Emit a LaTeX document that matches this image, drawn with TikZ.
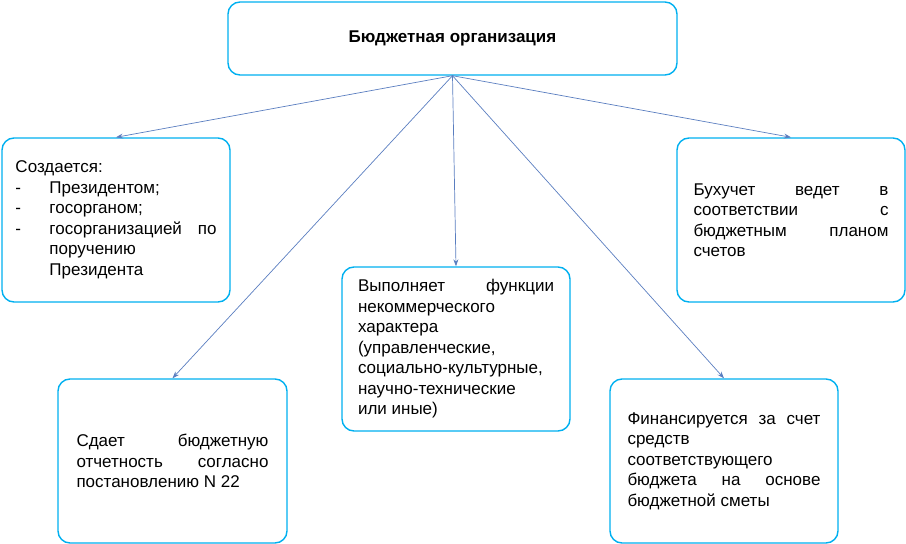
\documentclass[tikz,border=0pt]{standalone}
\usepackage{fontspec}
\setmainfont{Liberation Sans}
\usetikzlibrary{arrows.meta}
\definecolor{bordc}{HTML}{00B0F0}
\definecolor{arrc}{HTML}{5A7EC0}
\begin{document}
\begin{tikzpicture}[x=1pt,y=-1pt,
  box/.style={draw=bordc,line width=1.4pt,rounded corners=12pt,fill=white,inner sep=0pt},
  txt/.style={font=\fontsize{17}{20.5}\selectfont,align=justify},
  arr/.style={draw=arrc,line width=0.7pt,-{Stealth[length=7pt,width=5pt]}}]
\useasboundingbox (0,0) rectangle (906,544);
\node[box,minimum width=449pt,minimum height=73pt,font=\fontsize{17}{20}\selectfont\bfseries] (top) at (452.5,38.5) {Бюджетная организация};
\node[box,minimum width=228pt,minimum height=164pt,txt,text width=201pt] (l) at (116,220) {%
Создается:\par
\noindent\makebox[34pt][l]{-}Президентом;\par
\noindent\makebox[34pt][l]{-}госорганом;\par
\noindent\hangindent=34pt\hangafter=1\makebox[34pt][l]{-}госорганизацией по\linebreak поручению\\ Президента\par};
\node[box,minimum width=228pt,minimum height=164pt,txt,text width=195pt] (r) at (791,220) {%
Бухучет ведет в\linebreak соответствии с\linebreak бюджетным планом\linebreak счетов};
\node[box,minimum width=228pt,minimum height=164pt,txt,text width=196pt] (c) at (456,349) {%
Выполняет функции\linebreak некоммерческого\\ характера\\ (управленческие,\\ социально-культурные,\\ научно-технические\\ или иные)};
\node[box,minimum width=229pt,minimum height=164pt,txt,text width=192pt] (bl) at (172.5,461) {%
Сдает бюджетную\linebreak отчетность согласно\linebreak постановлению N 22};
\node[box,minimum width=228pt,minimum height=164pt,txt,text width=193pt] (br) at (724,461) {%
Финансируется за счет\linebreak средств\\ соответствующего\\ бюджета на основе\linebreak бюджетной сметы};
\draw[arr] (top.south) -- (l.north);
\draw[arr] (top.south) -- (r.north);
\draw[arr] (top.south) -- (c.north);
\draw[arr] (top.south) -- (bl.north);
\draw[arr] (top.south) -- (br.north);
\end{tikzpicture}
\end{document}
